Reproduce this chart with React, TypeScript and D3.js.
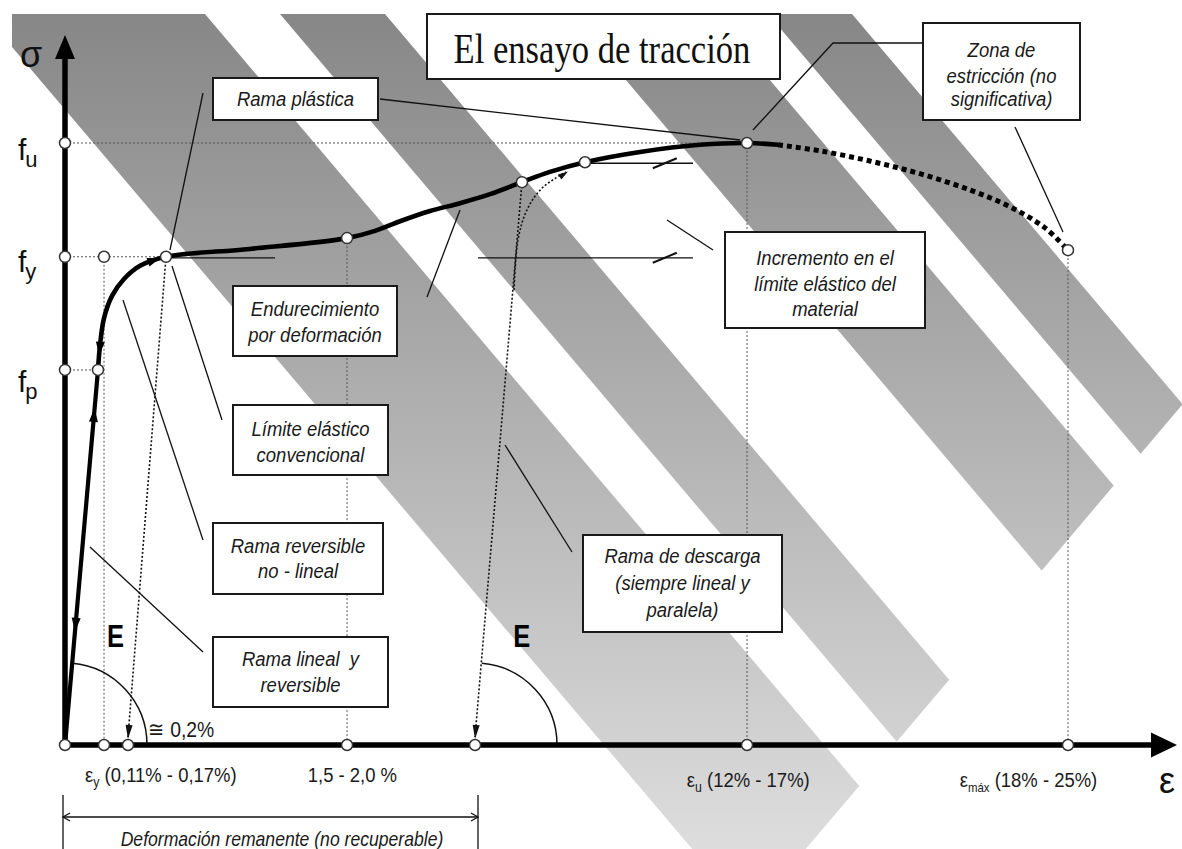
import React from "react";
import * as d3 from "d3";

type P = [number, number];

// ---------- data (strain in display units: εmáx = 100; stress in % of fu) ----------
const stressLevels = [100, 81.1, 62.3];
const stressSubscripts = ["u", "y", "p"];
const stressLabelDy = [17, 15, 22];
const axisStrainPoints = [0, 3.89, 6.28, 28.12, 40.88, 68, 100];

const elasticBranch: P[] = [[0, 0], [3.29, 62.3]];
const nonlinearBranch: P[] = [[3.29, 62.3], [3.49, 66.4], [3.89, 70.9], [4.69, 74.6], [5.88, 77.4], [7.48, 79.6], [10.07, 81.1]];
const plasticBranch: P[] = [[10.07, 81.1], [18.44, 82.4], [28.12, 84.2]];
const hardeningBranch: P[] = [[28.12, 84.2], [30.91, 85.4], [33.4, 87.0], [36.39, 88.7], [39.38, 90.0], [42.37, 91.5], [45.56, 93.5], [48.35, 95.2], [51.84, 96.8], [57.33, 98.5], [63.31, 99.7], [68, 100], [71.09, 99.7]];
const neckingBranch: P[] = [[71.09, 99.7], [75.27, 98.7], [80.26, 97.0], [85.24, 94.9], [90.23, 92.2], [94.22, 89.4], [97.71, 85.9], [100, 82.2]];
const reloadBranch: P[] = [[44.77, 75.6], [45.16, 83.9], [46.06, 88.9], [47.56, 92.5], [49.95, 95.2]];
const markedPoints: P[] = [[3.89, 81.1], [10.07, 81.1], [3.29, 62.3], [28.12, 84.2], [45.56, 93.5], [51.84, 96.8], [68, 100], [100, 82.2]];
const unloadStart: P[] = [[10.07, 81.1], [45.56, 93.5]];
const unloadEnd = [6.28, 40.88];
const verticalGuides: P[] = [[3.89, 81.1], [28.12, 84.2], [68, 100], [100, 82.2]];
const horizontalGuideEnd = [68, 10.07, 3.29];
const yieldLevelLine = [81.1, 81.1, 96.8];
const yieldLevelFrom = [10.07, 41.18, 51.84];
const yieldLevelTo = [20.94, 62.61, 62.61];
const yieldSlashAt = [NaN, 59.8, 59.8];

const bottomLabelMain = ["ε", "", "ε", "ε"];
const bottomLabelSub = ["y", "", "u", "máx"];
const bottomLabelRest = [" (0,11% - 0,17%)", "1,5 - 2,0 %", " (12% - 17%)", " (18% - 25%)"];
const bottomLabelX = [2.0, 24.2, 62.0, 89.2];
const bottomLabelDy = [37, 37, 42, 42];

// ---------- layout (annotation boxes / leaders / background bands) ----------
const boxRects = [
  [213, 78, 165, 42],
  [233, 286, 164, 70],
  [233, 405, 155, 70],
  [213, 523, 170, 71],
  [213, 637, 175, 70],
  [583, 535, 199, 97],
  [725, 232, 200, 96],
  [923, 23, 157, 97],
];
const boxLines = [
  ["Rama plástica"],
  ["Endurecimiento", "por deformación"],
  ["Límite elástico", "convencional"],
  ["Rama reversible", "no - lineal"],
  ["Rama lineal\u00A0 y", "reversible"],
  ["Rama de descarga", "(siempre lineal y", "paralela)"],
  ["Incremento en el", "límite elástico del", "material"],
  ["Zona de", "estricción (no", "significativa)"],
];
const boxBaselines = [[106], [316, 342], [436, 462], [553, 578], [666, 692], [563, 590, 617], [265, 291, 316], [57, 83, 106]];

const leaders: P[][] = [
  [[203, 93], [170, 250]],
  [[380, 99], [740, 140]],
  [[427, 297], [460, 210]],
  [[222, 420], [172, 266]],
  [[203, 540], [123, 300]],
  [[203, 652], [90, 547]],
  [[572, 552], [505, 445]],
  [[713, 250], [667, 220]],
  [[923, 43], [833, 43], [753, 130]],
  [[1015, 127], [1063, 232]],
];

const bandSlope = 1.18;
const bandFrom = [-400, 280, 570, 768];
const bandTo = [205, 385, 714, 852];
const clipPoly: P[] = [[12, 14], [1182, 14], [1182, 405], [749, 916], [12, 47]];

const W = 1182;
const H = 849;

const xS = d3.scaleLinear().domain([0, 100]).range([65, 1068]);
const yS = d3.scaleLinear().domain([0, 100]).range([745, 143]);

const straight = d3.line<P>().x((d) => xS(d[0])).y((d) => yS(d[1]));
const smooth = d3.line<P>().x((d) => xS(d[0])).y((d) => yS(d[1])).curve(d3.curveCatmullRom.alpha(0.5));

function arrowPath(tx: number, ty: number, ang: number, len = 13, hw = 4) {
  const bx = tx - len * Math.cos(ang);
  const by = ty - len * Math.sin(ang);
  const nx = -Math.sin(ang) * hw;
  const ny = Math.cos(ang) * hw;
  return `M${tx},${ty}L${bx + nx},${by + ny}L${bx - nx},${by - ny}Z`;
}

const SANS = "'Liberation Sans', Arial, sans-serif";

function CText(props: { x: number; y: number; size: number; anchor?: string; italic?: boolean; sx?: number; children: React.ReactNode; weight?: string }) {
  const { x, y, size, anchor = "middle", italic = true, sx = 0.88, children, weight = "normal" } = props;
  return (
    <g transform={`translate(${x},${y}) scale(${sx},1)`}>
      <text x={0} y={0} fontFamily={SANS} fontSize={size} fontStyle={italic ? "italic" : "normal"} fontWeight={weight} textAnchor={anchor as any} fill="#1a1a1a">
        {children}
      </text>
    </g>
  );
}

export default function App() {
  const x0 = xS(0);
  const y0 = yS(0);

  // bands
  const bands = bandFrom.map((u0, i) => {
    const u1 = bandTo[i];
    const ya = 0, yb = 940;
    const off = (y: number) => (y - 14) / bandSlope;
    return `M${u0 + off(ya)},${ya}L${u1 + off(ya)},${ya}L${u1 + off(yb)},${yb}L${u0 + off(yb)},${yb}Z`;
  });

  // arrows on curves
  const elAng = Math.atan2(yS(62.3) - y0, xS(3.29) - x0);
  const upArrowS = 56.0;
  const downArrowS = 18.8;
  const upTip: P = [xS((3.29 * upArrowS) / 62.3), yS(upArrowS)];
  const downTip: P = [xS((3.29 * downArrowS) / 62.3), yS(downArrowS)];

  const nlDownTip: P = [xS(3.42), yS(64.8)];
  const nlDownAng = Math.atan2(yS(62.3) - yS(66.4), xS(3.29) - xS(3.49));
  const nlRightTip: P = [xS(9.5), yS(80.9)];
  const nlRightAng = Math.atan2(yS(81.1) - yS(79.6), xS(10.07) - xS(7.48));

  const reloadEnd = reloadBranch[reloadBranch.length - 1];
  const reloadPrev = reloadBranch[reloadBranch.length - 2];
  const reloadAng = Math.atan2(yS(reloadEnd[1]) - yS(reloadPrev[1]), xS(reloadEnd[0]) - xS(reloadPrev[0]));

  // angle arcs
  const R = 82;
  const arcPath = (cx: number, cy: number, ang: number) => {
    const sx = cx + R * Math.cos(ang);
    const sy = cy + R * Math.sin(ang);
    return `M${sx},${sy}A${R},${R} 0 0 1 ${cx + R},${cy}`;
  };
  const unAng2 = Math.atan2(yS(93.5) - y0, xS(45.56) - xS(40.88));

  return (
    <svg width={W} height={H} style={{ position: "absolute", left: 0, top: 0, background: "#fff" }}>
      <defs>
        <linearGradient id="bandGrad" gradientUnits="userSpaceOnUse" x1={0} y1={14} x2={0} y2={849}>
          <stop offset="0" stopColor="#878787" />
          <stop offset="1" stopColor="#dddddd" />
        </linearGradient>
        <clipPath id="bandClip">
          <polygon points={clipPoly.map((p) => p.join(",")).join(" ")} />
        </clipPath>
      </defs>
      <rect x={0} y={0} width={W} height={H} fill="#fff" />

      {/* background bands */}
      <g clipPath="url(#bandClip)">
        {bands.map((d, i) => (
          <path key={i} d={d} fill="url(#bandGrad)" />
        ))}
      </g>

      {/* dotted guides */}
      <g stroke="#555" strokeWidth={1} strokeDasharray="2 2" fill="none">
        {stressLevels.map((s, i) => (
          <line key={"h" + i} x1={x0} x2={xS(horizontalGuideEnd[i])} y1={yS(s)} y2={yS(s)} />
        ))}
        {verticalGuides.map((p, i) => (
          <line key={"v" + i} x1={xS(p[0])} x2={xS(p[0])} y1={yS(p[1])} y2={y0} />
        ))}
      </g>

      {/* yield level markers */}
      <g stroke="#111" strokeWidth={1.3}>
        {yieldLevelLine.map((s, i) => (
          <line key={"yl" + i} x1={xS(yieldLevelFrom[i])} x2={xS(yieldLevelTo[i])} y1={yS(s) + 1} y2={yS(s) + 1} />
        ))}
        {yieldSlashAt.map((xv, i) =>
          isNaN(xv) ? null : (
            <line key={"ys" + i} x1={xS(xv) - 12} y1={yS(yieldLevelLine[i]) + 6} x2={xS(xv) + 12} y2={yS(yieldLevelLine[i]) - 4} strokeWidth={2} />
          )
        )}
      </g>

      {/* unloading / reloading dotted */}
      <g stroke="#111" strokeWidth={1.6} strokeDasharray="2 2" fill="none">
        {unloadStart.map((p, i) => (
          <line key={"u" + i} x1={xS(p[0])} y1={yS(p[1])} x2={xS(unloadEnd[i])} y2={y0 - 8} />
        ))}
        <path d={smooth(reloadBranch) || ""} />
      </g>
      <g fill="#111">
        {unloadStart.map((p, i) => {
          const ang = Math.atan2(y0 - yS(p[1]), xS(unloadEnd[i]) - xS(p[0]));
          return <path key={"ua" + i} d={arrowPath(xS(unloadEnd[i]) + 0.0, y0 - 6, ang, 14, 3.5)} />;
        })}
        <path d={arrowPath(xS(reloadEnd[0]) + 2, yS(reloadEnd[1]) - 0.5, reloadAng, 10, 3)} />
      </g>

      {/* angle arcs */}
      <g stroke="#111" strokeWidth={1.5} fill="none">
        <path d={arcPath(x0, y0, elAng)} />
        <path d={arcPath(xS(40.88), y0, unAng2)} />
      </g>

      {/* curve */}
      <path d={straight(elasticBranch) || ""} stroke="#000" strokeWidth={4.2} fill="none" />
      <path d={smooth([...nonlinearBranch, ...plasticBranch.slice(1), ...hardeningBranch.slice(1)]) || ""} stroke="#000" strokeWidth={4.6} fill="none" strokeLinejoin="round" />
      <path d={smooth(neckingBranch) || ""} stroke="#000" strokeWidth={5} fill="none" strokeDasharray="5 4" />

      <g fill="#000">
        <path d={arrowPath(upTip[0], upTip[1], elAng, 14, 4.5)} />
        <path d={arrowPath(downTip[0], downTip[1], elAng + Math.PI, 14, 4.5)} />
        <path d={arrowPath(nlDownTip[0], nlDownTip[1], nlDownAng, 13, 4.5)} />
        <path d={arrowPath(nlRightTip[0], nlRightTip[1], nlRightAng, 13, 4.5)} />
      </g>

      {/* axes */}
      <line x1={x0} y1={y0} x2={x0} y2={56} stroke="#000" strokeWidth={5.5} />
      <path d={`M${x0},35L${x0 - 10},59L${x0 + 10},59Z`} fill="#000" />
      <line x1={x0} y1={y0} x2={1152} y2={y0} stroke="#000" strokeWidth={5.5} />
      <path d={`M1177,${y0}L1151,${y0 - 12.5}L1151,${y0 + 12.5}Z`} fill="#000" />

      {/* circles */}
      <g fill="#fff" stroke="#333" strokeWidth={1.5}>
        {stressLevels.map((s, i) => (
          <circle key={"sc" + i} cx={x0} cy={yS(s)} r={5.5} />
        ))}
        {axisStrainPoints.map((e, i) => (
          <circle key={"ac" + i} cx={xS(e)} cy={y0} r={5.5} />
        ))}
        {markedPoints.map((p, i) => (
          <circle key={"mc" + i} cx={xS(p[0])} cy={yS(p[1])} r={5.5} />
        ))}
      </g>

      {/* leader lines */}
      <g stroke="#111" strokeWidth={1.3} fill="none">
        {leaders.map((pts, i) => (
          <polyline key={"l" + i} points={pts.map((p) => p.join(",")).join(" ")} />
        ))}
      </g>

      {/* boxes */}
      {boxRects.map((r, i) => (
        <g key={"b" + i}>
          <rect x={r[0]} y={r[1]} width={r[2]} height={r[3]} fill="#fff" stroke="#1a1a1a" strokeWidth={2} />
          {boxLines[i].map((t, j) => (
            <CText key={j} x={r[0] + r[2] / 2} y={boxBaselines[i][j]} size={21}>
              {t}
            </CText>
          ))}
        </g>
      ))}

      {/* title */}
      <rect x={427} y={14} width={353} height={65} fill="#fff" stroke="#1a1a1a" strokeWidth={2} />
      <g transform="translate(602,63) scale(0.805,1)">
        <text x={0} y={0} fontFamily="'Liberation Serif', 'Times New Roman', serif" fontSize={43} textAnchor="middle" fill="#111">
          El ensayo de tracción
        </text>
      </g>

      {/* axis symbol labels */}
      <text x={20} y={67} fontFamily={SANS} fontSize={36} fill="#111">σ</text>
      <text x={1159} y={793} fontFamily={SANS} fontSize={36} fill="#111">ε</text>
      {stressLevels.map((s, i) => (
        <text key={"sl" + i} x={18} y={yS(s) + stressLabelDy[i]} fontFamily={SANS} fontSize={30} fill="#111">
          f
          <tspan fontSize={22} dx={-1} dy={7}>
            {stressSubscripts[i]}
          </tspan>
        </text>
      ))}

      {/* E labels */}
      <text x={xS(3.89) + 3} y={647} fontFamily={SANS} fontSize={31} fontWeight="bold" textLength={17} lengthAdjust="spacingAndGlyphs" fill="#000">E</text>
      <text x={xS(44.7)} y={647} fontFamily={SANS} fontSize={31} fontWeight="bold" textLength={17} lengthAdjust="spacingAndGlyphs" fill="#000">E</text>

      <CText x={148} y={737} size={22} anchor="start" italic={false}>≅ 0,2%</CText>

      {/* bottom labels */}
      {bottomLabelRest.map((t, i) => (
        <CText key={"bl" + i} x={xS(bottomLabelX[i])} y={y0 + bottomLabelDy[i]} size={21} anchor="start" italic={false}>
          {bottomLabelMain[i]}
          {bottomLabelSub[i] ? (
            <tspan fontSize={bottomLabelSub[i].length > 1 ? 13 : 14} dy={5}>
              {bottomLabelSub[i]}
            </tspan>
          ) : null}
          <tspan dy={bottomLabelSub[i] ? -5 : 0}>{t}</tspan>
        </CText>
      ))}

      {/* remanent deformation dimension */}
      <g stroke="#111" strokeWidth={1.3} fill="none">
        <line x1={63} y1={795} x2={63} y2={849} />
        <line x1={478} y1={795} x2={478} y2={849} />
        <line x1={63} y1={817} x2={478} y2={817} />
        <polyline points="70,813 63,817 70,821" />
        <polyline points="471,813 478,817 471,821" />
      </g>
      <CText x={282} y={846} size={20}>Deformación remanente (no recuperable)</CText>
    </svg>
  );
}
